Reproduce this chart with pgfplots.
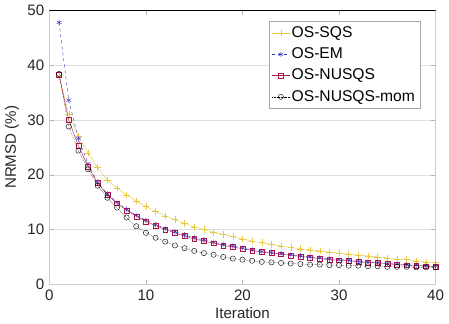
\documentclass[border=0pt]{standalone}
\usepackage{pgfplots}
\pgfplotsset{compat=1.18}
\usepackage{fontspec}
\setmainfont{Liberation Sans}
\definecolor{csqs}{RGB}{232,200,60}
\definecolor{cem}{RGB}{50,50,200}
\definecolor{cnu}{RGB}{170,20,70}
\begin{document}
\fontsize{15}{17}\selectfont
\begin{tikzpicture}
\begin{axis}[
  scale only axis,
  width=382bp, height=271bp,
  xmin=0, xmax=40, ymin=0, ymax=50,
  xtick={0,10,20,30,40}, ytick={0,10,20,30,40,50},
  /pgf/number format/assume math mode=true,
  ticklabel style={font=\fontsize{15}{17}\selectfont, text=black!85},
  label style={font=\fontsize{15}{17}\selectfont, text=black!85},
  xlabel={Iteration}, ylabel={NRMSD (\%)},
  xlabel style={yshift=3pt},
  ylabel style={yshift=-2pt},
  ymajorgrids, grid style={gray!25},
  axis line style={gray!40},
  tick style={gray!60},
  tick align=inside,
  xtick pos=both, ytick pos=both,
  legend style={at={(0.96,0.96)}, anchor=north east, draw=gray!70, font=\fontsize{15.5}{17}\selectfont, row sep=4pt, inner sep=3pt},
  legend cell align=left,
]
\addplot[csqs, thin, mark=+, mark size=3.2pt] coordinates {
(1,38.0)(2,31.0)(3,27.0)(4,24.0)(5,21.3)(6,19.0)(7,17.6)(8,16.3)(9,15.2)(10,14.2)
(11,13.3)(12,12.5)(13,11.8)(14,11.1)(15,10.5)(16,10.0)(17,9.5)(18,9.1)(19,8.7)(20,8.3)
(21,7.9)(22,7.6)(23,7.3)(24,7.0)(25,6.7)(26,6.5)(27,6.3)(28,6.1)(29,5.9)(30,5.7)
(31,5.5)(32,5.3)(33,5.2)(34,5.0)(35,4.8)(36,4.6)(37,4.5)(38,4.3)(39,4.1)(40,4.0)};
\addlegendentry{OS-SQS}
\addplot[cem, thin, dashed, mark=asterisk, mark size=2.8pt, mark options={solid}] coordinates {
(1,47.8)(2,33.6)(3,26.6)(4,22.0)(5,18.6)(6,16.5)(7,15.0)(8,13.7)(9,12.6)(10,11.7)
(11,10.9)(12,10.2)(13,9.6)(14,9.0)(15,8.5)(16,8.1)(17,7.7)(18,7.3)(19,7.0)(20,6.6)
(21,6.3)(22,6.0)(23,5.8)(24,5.6)(25,5.4)(26,5.2)(27,5.0)(28,4.8)(29,4.6)(30,4.5)
(31,4.4)(32,4.2)(33,4.1)(34,4.0)(35,3.8)(36,3.7)(37,3.6)(38,3.5)(39,3.4)(40,3.3)};
\addlegendentry{OS-EM}
\addplot[cnu, thin, mark=square, mark size=2.4pt] coordinates {
(1,38.2)(2,30.0)(3,25.3)(4,21.5)(5,18.5)(6,16.3)(7,14.8)(8,13.5)(9,12.4)(10,11.5)
(11,10.7)(12,10.0)(13,9.4)(14,8.8)(15,8.3)(16,7.9)(17,7.5)(18,7.1)(19,6.8)(20,6.5)
(21,6.2)(22,5.9)(23,5.7)(24,5.5)(25,5.3)(26,5.1)(27,4.9)(28,4.7)(29,4.5)(30,4.4)
(31,4.3)(32,4.1)(33,4.0)(34,3.9)(35,3.8)(36,3.6)(37,3.5)(38,3.4)(39,3.3)(40,3.2)};
\addlegendentry{OS-NUSQS}
\addplot[black, thin, densely dotted, mark=o, mark size=2.6pt, mark options={solid}] coordinates {
(1,38.4)(2,28.8)(3,24.4)(4,21.0)(5,18.0)(6,15.8)(7,14.0)(8,12.2)(9,10.6)(10,9.4)
(11,8.5)(12,7.8)(13,7.1)(14,6.6)(15,6.1)(16,5.7)(17,5.4)(18,5.0)(19,4.7)(20,4.5)
(21,4.3)(22,4.1)(23,4.0)(24,3.9)(25,3.8)(26,3.7)(27,3.6)(28,3.6)(29,3.5)(30,3.5)
(31,3.4)(32,3.4)(33,3.3)(34,3.3)(35,3.2)(36,3.2)(37,3.2)(38,3.1)(39,3.1)(40,3.1)};
\addlegendentry{OS-NUSQS-mom}
\draw[black, thin] (rel axis cs:0,1) -- (rel axis cs:1,1);
\end{axis}
\end{tikzpicture}
\end{document}
